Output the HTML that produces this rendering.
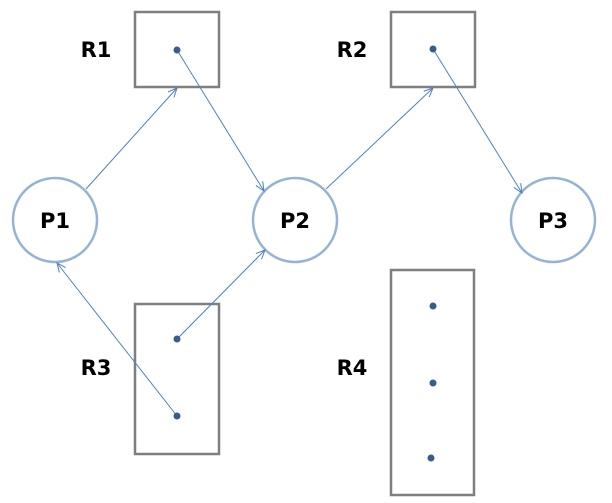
<!DOCTYPE html>
<html><head><style>body{margin:0;background:#fff}svg{display:block}</style></head><body>
<svg width="612" height="503" viewBox="0 0 612 503" xmlns="http://www.w3.org/2000/svg">
<defs><marker id="a" markerWidth="12" markerHeight="12" refX="10" refY="5" orient="auto" markerUnits="userSpaceOnUse"><path d="M1,1 L10,5 L1,9" fill="none" stroke="#4f81bd" stroke-width="1"/></marker></defs>
<g fill="none" stroke="#7f7f7f" stroke-width="2.5">
<rect x="135" y="12" width="84" height="75"/>
<rect x="391" y="12" width="84" height="75"/>
<rect x="135" y="304" width="84" height="150"/>
<rect x="391" y="270" width="83" height="225"/>
</g>
<g fill="#fff" stroke="#95b3d7" stroke-width="2.5">
<circle cx="55" cy="220" r="42"/>
<circle cx="295" cy="220" r="42"/>
<circle cx="553" cy="220" r="42"/>
</g>
<g stroke="#4f81bd" stroke-width="1" marker-end="url(#a)">
<line x1="86" y1="189" x2="177" y2="88"/>
<line x1="177" y1="50" x2="264" y2="191"/>
<line x1="326" y1="189" x2="433" y2="88"/>
<line x1="433" y1="49" x2="522" y2="193"/>
<line x1="177" y1="339" x2="265" y2="250"/>
<line x1="177" y1="416" x2="57" y2="263"/>
</g>
<g fill="#385d8a">
<circle cx="177" cy="50" r="3.5"/><circle cx="433" cy="49" r="3.5"/>
<circle cx="177" cy="339" r="3.5"/><circle cx="177" cy="416" r="3.5"/>
<circle cx="433" cy="306" r="3.5"/><circle cx="433" cy="383" r="3.5"/><circle cx="431" cy="458" r="3.5"/>
</g>
<g font-family="DejaVu Sans, sans-serif" font-size="21" font-weight="bold" fill="#000" text-anchor="middle" dominant-baseline="central">
<text x="96" y="50">R1</text><text x="352" y="50">R2</text>
<text x="96" y="368">R3</text><text x="352" y="368">R4</text>
<text x="55" y="221">P1</text><text x="295" y="221">P2</text><text x="553" y="221">P3</text>
</g>
</svg>
</body></html>
